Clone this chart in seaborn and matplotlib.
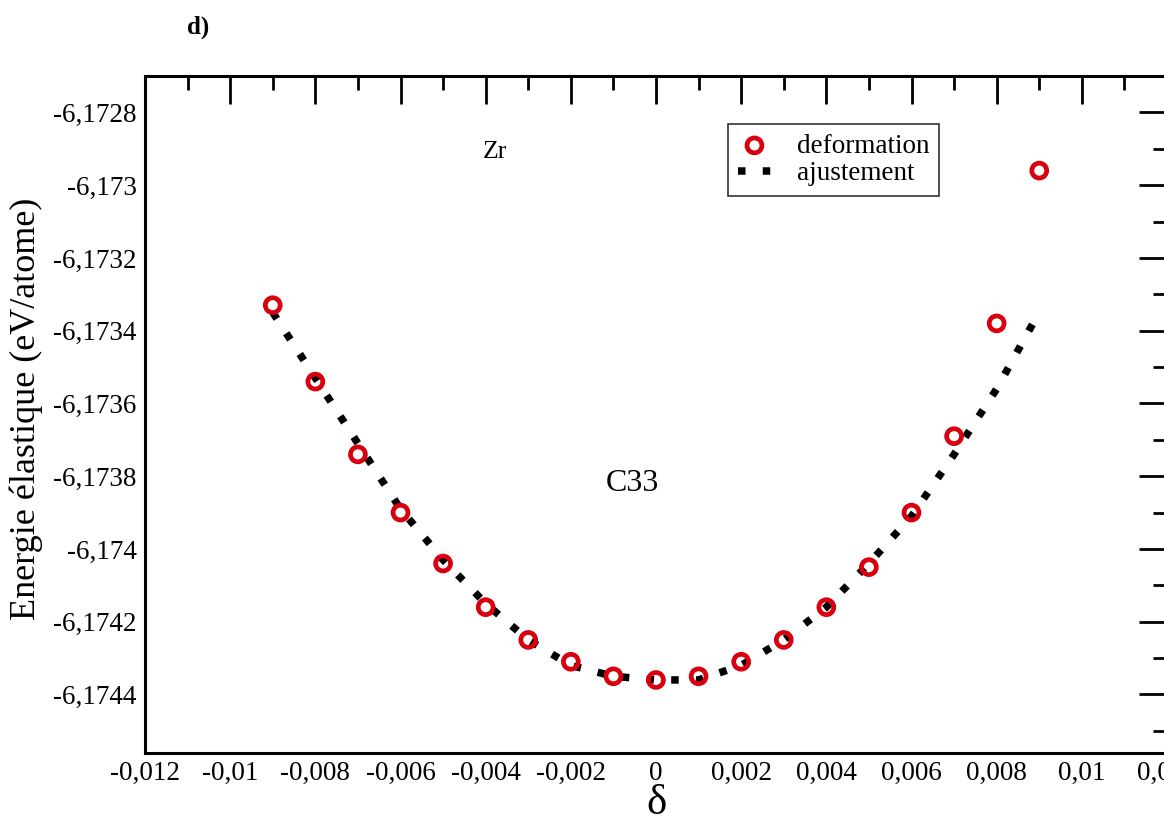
import numpy as np
import pandas as pd
import matplotlib
matplotlib.use("Agg")
import matplotlib.pyplot as plt
import seaborn as sns
from matplotlib.ticker import MultipleLocator, FuncFormatter

# -------------------------
# Data
# -------------------------
delta = [-0.009, -0.008, -0.007, -0.006, -0.005, -0.004, -0.003, -0.002, -0.001,
         0.0, 0.001, 0.002, 0.003, 0.004, 0.005, 0.006, 0.007, 0.008, 0.009]
energy = [-6.17333, -6.17354, -6.17374, -6.17390, -6.17404, -6.17416, -6.17425,
          -6.17431, -6.17435, -6.17436, -6.17435, -6.17431, -6.17425, -6.17416,
          -6.17405, -6.17390, -6.17369, -6.17338, -6.17296]

fit_delta = [-0.009, -0.008, -0.007, -0.006, -0.005, -0.004, -0.003, -0.002, -0.001,
             0.0, 0.001, 0.002, 0.003, 0.004, 0.005, 0.006, 0.007, 0.008, 0.0089]
fit_energy = [-6.17335, -6.17353, -6.17371, -6.17389, -6.17403, -6.17415, -6.17425,
              -6.17432, -6.17435, -6.17436, -6.17436, -6.17432, -6.17425, -6.17416,
              -6.17404, -6.17391, -6.17374, -6.17356, -6.17337]

pts = pd.DataFrame({"delta": delta, "energy": energy})
fit = pd.DataFrame({"delta": fit_delta, "energy": fit_energy})


def comma_fmt(v, pos):
    s = "%g" % round(v, 6)
    return s.replace(".", ",")


def main():
    sns.set_theme(style="white")
    plt.rcParams["font.family"] = ["Liberation Serif", "DejaVu Serif"]
    plt.rcParams["text.color"] = "black"
    plt.rcParams["axes.labelcolor"] = "black"

    fig = plt.figure(figsize=(11.64, 8.25), dpi=100)
    ax = fig.add_axes([145 / 1164, 1 - 752.7 / 825, (1167 - 145) / 1164, (752.7 - 76) / 825])

    sns.lineplot(data=fit, x="delta", y="energy", ax=ax, color="black",
                 linewidth=5.4, dashes=False, label="ajustement", sort=False)
    line = ax.lines[-1]
    line.set_dashes((1, 2.3))
    line.set_dash_capstyle("butt")

    sns.scatterplot(data=pts, x="delta", y="energy", ax=ax, marker="o",
                    s=115, facecolor="none", edgecolor="#d8000e", linewidth=3.4,
                    label="deformation", zorder=3)

    ax.set_xlim(-0.012, 0.012)
    ax.set_ylim(-6.17456, -6.17270)

    ax.xaxis.set_major_locator(MultipleLocator(0.002))
    ax.xaxis.set_minor_locator(MultipleLocator(0.001))
    ax.yaxis.set_major_locator(MultipleLocator(0.0002))
    ax.yaxis.set_minor_locator(MultipleLocator(0.0001))
    ax.xaxis.set_major_formatter(FuncFormatter(comma_fmt))
    ax.yaxis.set_major_formatter(FuncFormatter(comma_fmt))

    ax.tick_params(which="both", direction="in", top=True, right=True,
                   colors="black", width=2, labelsize=19.5)
    ax.tick_params(which="major", length=20, pad=6)
    ax.tick_params(which="minor", length=10)
    for sp in ax.spines.values():
        sp.set_linewidth(2.2)
        sp.set_color("black")

    ax.set_xlabel("δ", fontsize=31, labelpad=-1)
    ax.set_ylabel("Energie élastique (eV/atome)", fontsize=26)
    ax.yaxis.set_label_coords(-0.10, 0.508)

    ax.text(-0.00378, -6.17291, "Zr", fontsize=18.5, ha="center", va="center")
    ax.text(-0.00056, -6.17382, "C33", fontsize=23, ha="center", va="center")

    handles, labels = ax.get_legend_handles_labels()
    order = [labels.index("deformation"), labels.index("ajustement")]
    leg = ax.legend([handles[i] for i in order], [labels[i] for i in order],
                    loc="upper left", bbox_to_anchor=(0.5705, 0.929),
                    fontsize=19.5, frameon=True, fancybox=False, edgecolor="black",
                    borderpad=0.35, labelspacing=0.1, handlelength=1.25,
                    handletextpad=0.95, borderaxespad=0)
    leg.get_frame().set_linewidth(1.2)

    fig.text(187 / 1164, 1 - 27 / 825, "d)", fontsize=18, fontweight="bold",
             ha="left", va="center")

    fig.savefig("out.png", dpi=100)


if __name__ == "__main__":
    main()
